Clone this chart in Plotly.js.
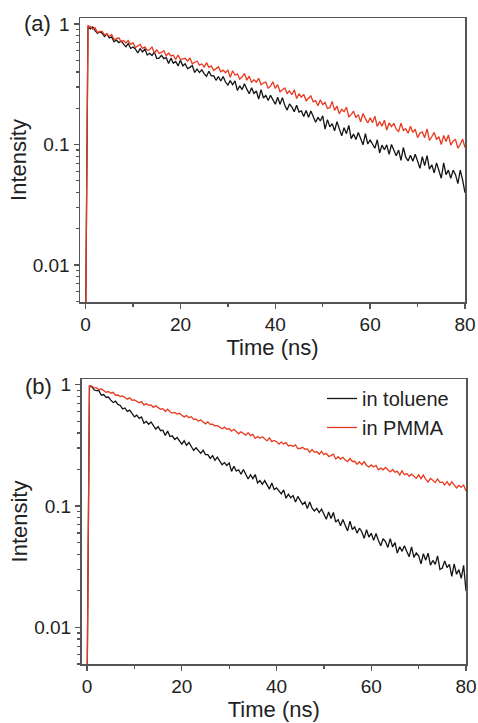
<!DOCTYPE html>
<html>
<head>
<meta charset="utf-8">
<script src="https://cdn.plot.ly/plotly-3.0.1.min.js"></script>
<style>html,body{margin:0;padding:0;background:#fff;}#chart{width:478px;height:723px;}</style>
</head>
<body>
<div id="chart"></div>
<script>
// Time channels (ns)
const timeNs = [0,0.5,1,1.5,2,2.5,3,3.5,4,4.5,5,5.5,6,6.5,7,7.5,8,8.5,9,9.5,
10,10.5,11,11.5,12,12.5,13,13.5,14,14.5,15,15.5,16,16.5,17,17.5,18,18.5,19,19.5,
20,20.5,21,21.5,22,22.5,23,23.5,24,24.5,25,25.5,26,26.5,27,27.5,28,28.5,29,29.5,
30,30.5,31,31.5,32,32.5,33,33.5,34,34.5,35,35.5,36,36.5,37,37.5,38,38.5,39,39.5,
40,40.5,41,41.5,42,42.5,43,43.5,44,44.5,45,45.5,46,46.5,47,47.5,48,48.5,49,49.5,
50,50.5,51,51.5,52,52.5,53,53.5,54,54.5,55,55.5,56,56.5,57,57.5,58,58.5,59,59.5,
60,60.5,61,61.5,62,62.5,63,63.5,64,64.5,65,65.5,66,66.5,67,67.5,68,68.5,69,69.5,
70,70.5,71,71.5,72,72.5,73,73.5,74,74.5,75,75.5,76,76.5,77,77.5,78,78.5,79,79.5,80];

// Panel (a)
const aToluene = [0.003,0.95,
.912,.946,.883,.836,.867,.836,.787,.828,.766,.782,.711,.736,.702,.723,.682,.647,.689,.627,.644,.622,
.575,.624,.586,.619,.553,.572,.548,.587,.518,.521,.550,.516,.526,.470,.521,.473,.489,.449,.501,.450,
.468,.426,.437,.453,.396,.423,.396,.417,.388,.368,.405,.371,.372,.341,.367,.337,.367,.330,.311,.339,
.313,.338,.281,.307,.286,.319,.288,.264,.296,.265,.278,.238,.285,.243,.256,.232,.256,.236,.216,.247,
.216,.245,.212,.193,.217,.204,.187,.212,.186,.190,.171,.192,.168,.190,.168,.153,.168,.157,.173,.134,
.161,.140,.149,.130,.155,.136,.118,.138,.123,.144,.112,.122,.110,.126,.110,.0995,.123,.101,.109,.1015,
.0931,.1095,.0851,.0988,.0906,.0994,.0828,.100,.0881,.0808,.0900,.0739,.0944,.0786,.0731,.0814,.0726,.0831,.0729,.0634,
.0794,.0668,.0808,.0624,.0680,.0582,.0704,.0613,.0525,.0704,.0562,.0613,.0525,.0613,.0562,.0473,.0613,.0507,.0398];
const aPMMA = [0.003,0.97,
.959,.906,.931,.849,.867,.867,.813,.826,.789,.819,.741,.756,.767,.714,.728,.696,.730,.678,.700,
.637,.655,.678,.628,.646,.605,.612,.647,.573,.610,.571,.581,.600,.544,.575,.543,.551,.508,.553,.507,
.514,.519,.492,.523,.468,.478,.493,.456,.466,.439,.478,.437,.449,.411,.427,.441,.401,.414,.394,.414,
.362,.410,.376,.386,.348,.363,.389,.342,.369,.328,.345,.329,.355,.313,.324,.330,.293,.305,.332,.292,
.314,.274,.285,.295,.265,.279,.259,.285,.241,.263,.247,.261,.231,.241,.253,.226,.231,.210,.235,.214,
.224,.199,.202,.228,.192,.209,.180,.196,.187,.204,.170,.177,.189,.167,.177,.154,.181,.164,.151,.167,
.152,.172,.141,.155,.142,.159,.132,.151,.141,.150,.134,.128,.150,.131,.135,.124,.142,.126,.134,.114,
.124,.127,.114,.135,.108,.116,.126,.110,.116,.100,.119,.106,.120,.0989,.107,.110,.0933,.100,.111,.0944];

// Panel (b)
const bToluene = [0.003,0.97,
.966,.904,.895,.894,.819,.829,.787,.791,.746,.714,.732,.688,.675,.632,.643,.603,.618,.574,.543,.561,
.528,.543,.482,.498,.472,.493,.459,.430,.452,.418,.422,.382,.415,.374,.379,.353,.367,.345,.324,.345,
.316,.335,.305,.287,.302,.288,.272,.288,.265,.265,.247,.260,.238,.253,.233,.219,.228,.216,.226,.193,
.213,.194,.199,.183,.200,.183,.167,.181,.168,.182,.155,.162,.151,.162,.148,.138,.155,.137,.141,.134,
.126,.136,.116,.125,.117,.122,.108,.120,.110,.103,.108,.0952,.108,.0962,.0910,.0956,.0883,.0943,.0861,.0777,
.0893,.0788,.0885,.0737,.0773,.0689,.0774,.0699,.0624,.0751,.0640,.0671,.0598,.0657,.0614,.0541,.0637,.0555,.0596,.0521,
.0594,.0520,.0471,.0537,.0509,.0456,.0538,.0460,.0501,.0409,.0461,.0423,.0471,.0422,.0382,.0461,.0377,.0410,.0389,.0334,
.0405,.0358,.0409,.0326,.0356,.0330,.0388,.0300,.0308,.0352,.0311,.0330,.0263,.0333,.0274,.0299,.0253,.0325,.0200];
const bPMMA = [0.003,0.98,
.974,.941,.940,.909,.926,.895,.865,.878,.851,.865,.819,.822,.800,.809,.782,.760,.780,.745,.748,.729,
.709,.725,.682,.696,.677,.682,.651,.669,.646,.628,.635,.604,.628,.599,.584,.591,.572,.581,.561,.543,
.556,.535,.545,.518,.519,.501,.511,.494,.476,.494,.471,.473,.456,.462,.451,.434,.447,.429,.435,.414,
.429,.409,.394,.409,.399,.384,.402,.380,.389,.362,.374,.362,.372,.358,.344,.364,.339,.347,.339,.324,
.337,.325,.333,.313,.317,.309,.319,.298,.298,.305,.294,.296,.278,.292,.277,.281,.267,.282,.265,.272,
.256,.260,.267,.244,.255,.244,.252,.240,.232,.247,.233,.234,.221,.232,.219,.232,.216,.210,.218,.210,
.216,.199,.206,.199,.208,.199,.191,.200,.190,.193,.180,.195,.181,.185,.176,.183,.177,.169,.181,.168,
.180,.166,.158,.169,.163,.156,.167,.156,.158,.149,.159,.148,.158,.148,.141,.148,.143,.149,.133];

const seriesNames = ['in toluene', 'in PMMA'];
const panelLabels = ['(a)', '(b)'];
const yTickVals = [0.01, 0.1, 1];
const yTickText = ['0.01', '0.1', '1'];
const yMinorVals = [0.005,0.006,0.007,0.008,0.009,0.02,0.03,0.04,0.05,0.06,0.07,0.08,0.09,0.2,0.3,0.4,0.5,0.6,0.7,0.8,0.9];
const xTickVals = [0, 20, 40, 60, 80];
const xMinorVals = [10, 30, 50, 70];

const BLACK = '#141414';
const RED = '#e8391f';
const FONT = 'Liberation Sans, Arial, Helvetica, sans-serif';
const W = 478, H = 723;

const traces = [
  {x: timeNs, y: aToluene, xaxis: 'x', yaxis: 'y', type: 'scatter', mode: 'lines',
   line: {color: BLACK, width: 1.3}, name: seriesNames[0], showlegend: false},
  {x: timeNs, y: aPMMA, xaxis: 'x', yaxis: 'y', type: 'scatter', mode: 'lines',
   line: {color: RED, width: 1.3}, name: seriesNames[1], showlegend: false},
  {x: timeNs, y: bToluene, xaxis: 'x2', yaxis: 'y2', type: 'scatter', mode: 'lines',
   line: {color: BLACK, width: 1.3}, name: seriesNames[0], showlegend: true},
  {x: timeNs, y: bPMMA, xaxis: 'x2', yaxis: 'y2', type: 'scatter', mode: 'lines',
   line: {color: RED, width: 1.3}, name: seriesNames[1], showlegend: true}
];

function xAxis(domPx, anchor, standoff) {
  return {
    domain: [domPx[0] / W, domPx[1] / W], anchor: anchor,
    range: [-1.18, 80], tickmode: 'array', tickvals: xTickVals,
    ticks: 'outside', ticklen: 5, tickwidth: 1.3, tickcolor: '#555',
    minor: {tickmode: 'array', tickvals: xMinorVals, ticks: 'outside', ticklen: 3, tickwidth: 1.3, tickcolor: '#555'},
    showline: true, linecolor: '#555', linewidth: 1.5, mirror: true,
    showgrid: false, zeroline: false,
    tickfont: {family: FONT, size: 19, color: '#222'},
    title: {text: 'Time (ns)', font: {family: FONT, size: 22, color: '#222'}, standoff: standoff}
  };
}
function yAxis(topPx, botPx, anchor, range) {
  return {
    domain: [1 - botPx / H, 1 - topPx / H], anchor: anchor,
    type: 'log', range: range, tickmode: 'array', tickvals: yTickVals, ticktext: yTickText,
    ticks: 'outside', ticklen: 5, tickwidth: 1.3, tickcolor: '#555',
    minor: {tickmode: 'array', tickvals: yMinorVals, ticks: 'outside', ticklen: 3, tickwidth: 1.3, tickcolor: '#555'},
    showline: true, linecolor: '#555', linewidth: 1.5, mirror: true,
    showgrid: false, zeroline: false,
    tickfont: {family: FONT, size: 19, color: '#222'},
    title: {text: 'Intensity', font: {family: FONT, size: 22, color: '#222'}, standoff: 0}
  };
}

const layout = {
  width: W, height: H,
  margin: {l: 0, r: 0, t: 0, b: 0},
  paper_bgcolor: '#fff', plot_bgcolor: '#fff',
  font: {family: FONT, color: '#222'},
  xaxis: xAxis([80, 465], 'y', 5),
  yaxis: yAxis(18, 302, 'x', [-2.307, 0.05]),
  xaxis2: xAxis([81.5, 466], 'y2', 5),
  yaxis2: yAxis(379, 664, 'x2', [-2.302, 0.047]),
  showlegend: true,
  legend: {x: 322 / W, y: 1 - 379 / H, xanchor: 'left', yanchor: 'top',
           bgcolor: 'rgba(0,0,0,0)', font: {family: FONT, size: 20, color: '#222'},
           tracegroupgap: 0},
  annotations: [
    {text: panelLabels[0], xref: 'paper', yref: 'paper', x: 37 / W, y: 1 - 24 / H,
     xanchor: 'center', yanchor: 'middle', showarrow: false, font: {family: FONT, size: 22, color: '#222'}},
    {text: panelLabels[1], xref: 'paper', yref: 'paper', x: 38 / W, y: 1 - 386 / H,
     xanchor: 'center', yanchor: 'middle', showarrow: false, font: {family: FONT, size: 22, color: '#222'}}
  ]
};

Plotly.newPlot('chart', traces, layout, {displayModeBar: false, staticPlot: true});
</script>
</body>
</html>
